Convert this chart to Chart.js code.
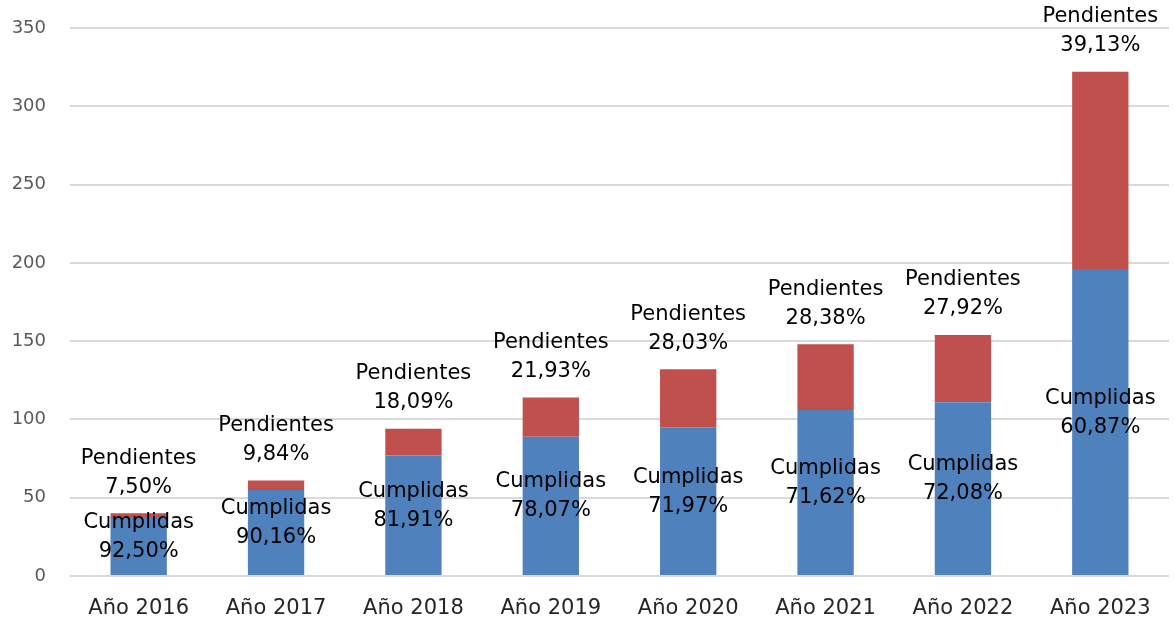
<!DOCTYPE html>
<html>
<head>
    <meta charset="UTF-8">
    <title>Cumplidas / Pendientes</title>
    <script src="https://cdn.jsdelivr.net/npm/chart.js"></script>
    <style>
        html, body { margin: 0; padding: 0; background: #fff; }
        #wrap { width: 1175px; height: 623px; }
    </style>
</head>
<body>
<div id="wrap"><canvas id="chart" width="1175" height="623"></canvas></div>

<script>
    // Datos
    const years = ["Año 2016", "Año 2017", "Año 2018", "Año 2019", "Año 2020", "Año 2021", "Año 2022", "Año 2023"];
    const cumplidas = [37, 55, 77, 89, 95, 106, 111, 196];
    const pendientes = [3, 6, 17, 25, 37, 42, 43, 126];
    const pctCumplidas = ["92,50%", "90,16%", "81,91%", "78,07%", "71,97%", "71,62%", "72,08%", "60,87%"];
    const pctPendientes = ["7,50%", "9,84%", "18,09%", "21,93%", "28,03%", "28,38%", "27,92%", "39,13%"];
    const yTicks = [0, 50, 100, 150, 200, 250, 300, 350];

    const FONT = "'DejaVu Sans', Verdana, sans-serif";

    // Etiquetas de datos dibujadas a mano (dos líneas)
    const labelPlugin = {
        id: 'labels',
        afterDatasetsDraw(chart) {
            const ctx = chart.ctx;
            const y = chart.scales.y;
            ctx.save();
            ctx.font = "21px " + FONT;
            ctx.fillStyle = "#000";
            ctx.textAlign = "center";
            ctx.textBaseline = "middle";
            const lineH = 29;
            chart.getDatasetMeta(0).data.forEach((bar, i) => {
                const x = bar.x;
                // Cumplidas: centrado en el segmento azul
                const yc = y.getPixelForValue(cumplidas[i] / 2) - 10;
                ctx.fillText("Cumplidas", x, yc - lineH / 2);
                ctx.fillText(pctCumplidas[i], x, yc + lineH / 2);
                // Pendientes: encima de la barra
                const top = y.getPixelForValue(cumplidas[i] + pendientes[i]);
                const yb = top - 26;
                ctx.fillText(pctPendientes[i], x, yb);
                ctx.fillText("Pendientes", x, yb - lineH);
            });
            ctx.restore();
        }
    };

    new Chart(document.getElementById("chart").getContext("2d"), {
        type: 'bar',
        data: {
            labels: years,
            datasets: [
                {
                    label: 'Cumplidas',
                    data: cumplidas,
                    backgroundColor: '#4F81BD',
                    categoryPercentage: 1,
                    barPercentage: 0.41
                },
                {
                    label: 'Pendientes',
                    data: pendientes,
                    backgroundColor: '#C0504D',
                    categoryPercentage: 1,
                    barPercentage: 0.41
                }
            ]
        },
        options: {
            responsive: false,
            animation: false,
            layout: { padding: { top: 28, right: 6, left: 0, bottom: 0 } },
            plugins: {
                legend: { display: false },
                tooltip: { enabled: false }
            },
            scales: {
                x: {
                    stacked: true,
                    grid: { display: false },
                    border: { display: false },
                    afterFit(axis) { axis.height = 47; },
                    ticks: {
                        color: '#262626',
                        font: { family: FONT, size: 21 },
                        padding: 12,
                        maxRotation: 0
                    }
                },
                y: {
                    stacked: true,
                    min: 0,
                    max: 350,
                    afterBuildTicks(axis) {
                        axis.ticks = yTicks.map(v => ({ value: v }));
                    },
                    afterFit(axis) {
                        axis.width = 70;
                        axis.paddingTop = 0;
                        axis.paddingBottom = 0;
                    },
                    grid: { color: '#D9D9D9', lineWidth: 2, drawTicks: false },
                    border: { display: false },
                    ticks: {
                        color: '#595959',
                        font: { family: FONT, size: 18 },
                        padding: 24
                    }
                }
            }
        },
        plugins: [labelPlugin]
    });
</script>
</body>
</html>
